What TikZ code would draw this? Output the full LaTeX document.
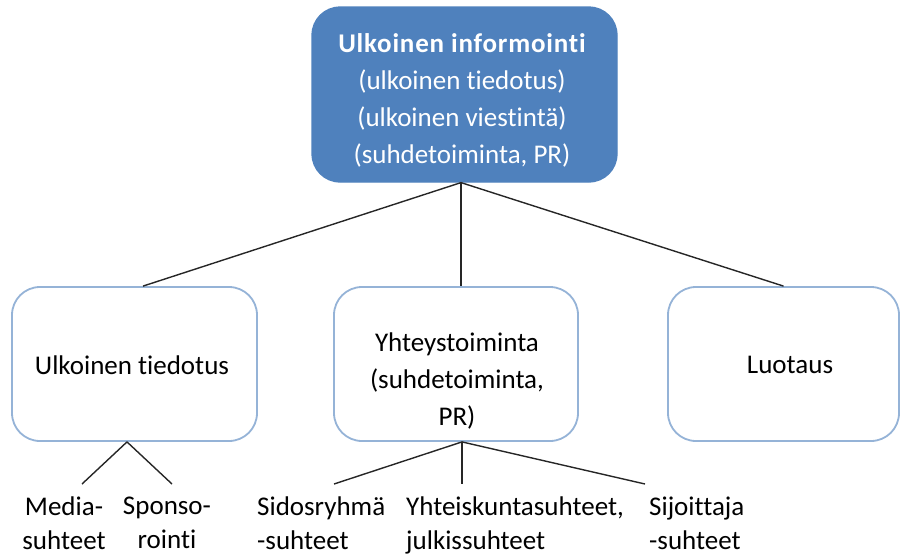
\documentclass[tikz,border=0pt]{standalone}
\usepackage{fontspec}
\setmainfont{Carlito}[Ligatures=NoCommon]
\usetikzlibrary{calc}
\definecolor{topfill}{HTML}{4F81BD}
\definecolor{boxline}{HTML}{95B3D7}
\definecolor{linkcol}{HTML}{262626}
\begin{document}
\begin{tikzpicture}[x=1pt,y=-1pt,
  topbox/.style={draw=topfill, fill=topfill, rounded corners=28pt, line width=1.2pt,
    minimum width=305pt, minimum height=175pt, inner sep=0pt},
  subbox/.style={draw=boxline, fill=white, rounded corners=28pt, line width=1.8pt,
    minimum height=154pt, inner sep=0pt},
  boxtext/.style={font=\fontsize{27}{37}\selectfont, align=center, inner sep=0pt},
  leaf/.style={font=\fontsize{27}{34}\selectfont, inner sep=0pt},
  link/.style={draw=linkcol, line width=1.4pt}]
\useasboundingbox (0,0) rectangle (901,555);

% main box
\node[topbox] (top) at (464.5,94.5) {};
\node[boxtext, text=white] (toptext) at (462,100)
  {{\bfseries\addfontfeatures{LetterSpace=3}Ulkoinen informointi}\\(ulkoinen tiedotus)\\(ulkoinen viestintä)\\(suhdetoiminta, PR)};

% second level boxes
\node[subbox, minimum width=245pt] (ut) at (134.5,364) {};
\node[boxtext] (uttext) at (132,365) {Ulkoinen tiedotus};
\node[subbox, minimum width=244pt] (yt) at (456,364) {};
\node[boxtext] (yttext) at (457,381) {Yhteystoiminta\\(suhdetoiminta,\\PR)};
\node[subbox, minimum width=231pt] (lt) at (783.5,364) {};
\node[boxtext] (lttext) at (790,365) {Luotaus};

% connectors from the main box
\coordinate (hub) at ($(top.south)+(-3.5,0)$);
\draw[link] (hub) -- ($(ut.north)+(8.5,0)$);
\draw[link] (hub) -- ($(yt.north)+(5,0)$);
\draw[link] (hub) -- (lt.north);

% leaves
\node[leaf, align=center, anchor=north] (media) at (64,497) {Media-\\suhteet};
\node[leaf, align=center, anchor=north] (sponso) at (167,497) {Sponso-\\rointi};
\node[leaf, align=left, anchor=north west] (sidos) at (257,497) {Sidosryhmä\\-suhteet};
\node[leaf, align=left, anchor=north west] (yhteis) at (406,497) {Yhteiskuntasuhteet,\\julkissuhteet};
\node[leaf, align=left, anchor=north west] (sijoit) at (649,497) {Sijoittaja\\-suhteet};

% leaf connectors
\coordinate (uthub) at ($(ut.south)+(-7.5,0)$);
\coordinate (mediaend) at (82,484);
\coordinate (sponsoend) at (172,484);
\draw[link] (uthub) -- (mediaend);
\draw[link] (uthub) -- (sponsoend);

\coordinate (ythub) at ($(yt.south)+(6,0)$);
\coordinate (sidosend) at (334,484);
\coordinate (yhteisend) at (462,484);
\coordinate (sijoitend) at (645,484);
\draw[link] (ythub) -- (sidosend);
\draw[link] (ythub) -- (yhteisend);
\draw[link] (ythub) -- (sijoitend);
\end{tikzpicture}
\end{document}
